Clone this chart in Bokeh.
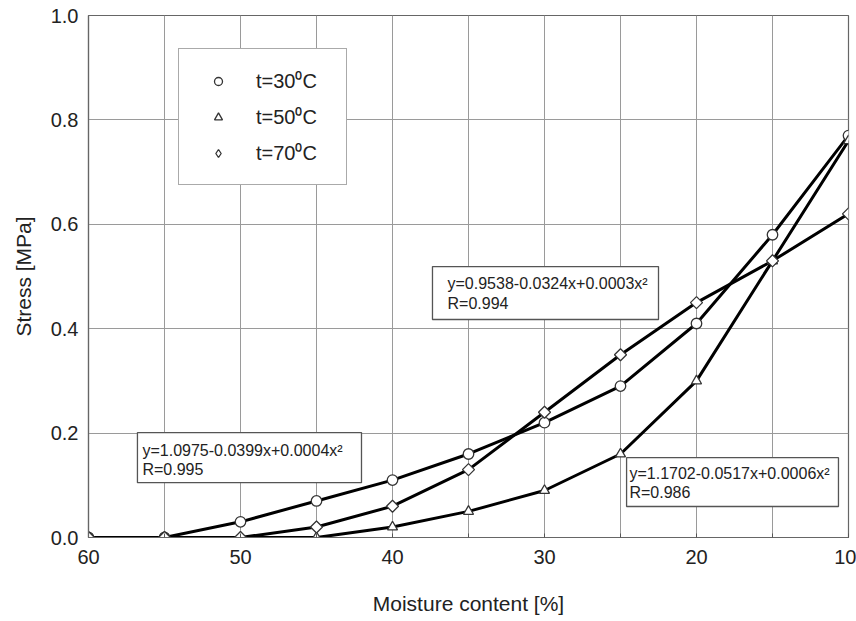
import math
from bokeh.plotting import figure
from bokeh.models import (Range1d, FixedTicker, PrintfTickFormatter, Legend, LegendItem,
                          BoxAnnotation, Label)
from bokeh.embed import file_html
from bokeh.resources import INLINE

# ---- data ----
moisture = [60, 55, 50, 45, 40, 35, 30, 25, 20, 15, 10]
stress_30 = [0.0, 0.0, 0.03, 0.07, 0.11, 0.16, 0.22, 0.29, 0.41, 0.58, 0.77]
stress_50 = [0.0, 0.0, 0.0, 0.0, 0.02, 0.05, 0.09, 0.16, 0.30, 0.53, 0.76]
stress_70 = [0.0, 0.0, 0.0, 0.02, 0.06, 0.13, 0.24, 0.35, 0.45, 0.53, 0.62]
series_labels = ["t=30\u2070C", "t=50\u2070C", "t=70\u2070C"]
x_ticks = [60, 55, 50, 45, 40, 35, 30, 25, 20, 15, 10]
x_tick_labels = {60: "60", 55: "", 50: "50", 45: "", 40: "40", 35: "", 30: "30",
                 25: "", 20: "20", 15: "", 10: "10"}
y_ticks = [0.0, 0.2, 0.4, 0.6, 0.8, 1.0]
fit_30 = ["y=1.0975-0.0399x+0.0004x\u00b2", "R=0.995"]
fit_70 = ["y=0.9538-0.0324x+0.0003x\u00b2", "R=0.994"]
fit_50 = ["y=1.1702-0.0517x+0.0006x\u00b2", "R=0.986"]

FONT = "Liberation Sans"
TXT = "#222222"

p = figure(width=856, height=621, output_backend="svg", toolbar_location=None,
           x_range=Range1d(60, 10), y_range=Range1d(0, 1.0),
           min_border_left=88, min_border_right=8, min_border_top=15, min_border_bottom=84)
p.background_fill_color = "white"
p.border_fill_color = "white"
p.outline_line_color = "#666666"
p.outline_line_width = 1.2

# axes
p.xaxis.ticker = FixedTicker(ticks=x_ticks)
p.xaxis.major_label_overrides = x_tick_labels
p.yaxis.ticker = FixedTicker(ticks=y_ticks)
p.yaxis.formatter = PrintfTickFormatter(format="%.1f")
for ax in (p.xaxis, p.yaxis):
    ax.axis_line_color = "#666666"
    ax.axis_line_width = 1.2
    ax.major_tick_out = 0
    ax.minor_tick_out = 0
    ax.minor_tick_in = 0
    ax.major_label_text_font = FONT
    ax.major_label_text_font_size = "20px"
    ax.major_label_text_color = TXT
    ax.axis_label_text_font = FONT
    ax.axis_label_text_font_size = "21px"
    ax.axis_label_text_font_style = "normal"
    ax.axis_label_text_color = TXT
p.xaxis.major_tick_in = 4
p.yaxis.major_tick_in = 0
p.xaxis.major_tick_line_color = "#555555"
p.xaxis.major_label_standoff = 12
p.yaxis.major_label_standoff = 10
p.xaxis.axis_label = "Moisture content [%]"
p.yaxis.axis_label = "Stress [MPa]"
p.xaxis.axis_label_standoff = 25
p.yaxis.axis_label_standoff = 13

# grid
p.xgrid.ticker = FixedTicker(ticks=x_ticks)
p.ygrid.ticker = FixedTicker(ticks=y_ticks)
for g in (p.xgrid, p.ygrid):
    g.grid_line_color = "#9a9a9a"
    g.grid_line_width = 1

# lines
for ys in (stress_30, stress_50, stress_70):
    p.line(moisture, ys, line_color="black", line_width=3)

mk = dict(fill_color="white", line_color="#333333", line_width=1.3)
r30 = p.scatter(moisture, stress_30, marker="circle", size=10.5, **mk)
r50 = p.scatter(moisture, stress_50, marker="triangle", size=10, **mk)
r70 = p.scatter(moisture, stress_70, marker="square", size=8.5, angle=math.pi / 4, **mk)
# legend-only glyph for the diamond series (legend does not rotate markers)
r70_key = p.scatter([float("nan")], [float("nan")], marker="diamond", size=14, **mk)

legend = Legend(items=[LegendItem(label=series_labels[0], renderers=[r30]),
                       LegendItem(label=series_labels[1], renderers=[r50]),
                       LegendItem(label=series_labels[2], renderers=[r70_key])],
                location=(90, 352), padding=18, spacing=9,
                glyph_width=42, glyph_height=20, label_height=20, label_width=72,
                label_standoff=17, margin=0,
                label_text_font=FONT, label_text_font_size="20px", label_text_color=TXT,
                border_line_color="#555555", border_line_width=1.5,
                background_fill_color="white", background_fill_alpha=1.0)
p.add_layout(legend, "center")

# fit annotation boxes (data coordinates)
boxes = [
    (56.78, 42.04, 0.201, 0.105, 56.45, 0.1667, 0.130, fit_30),
    (37.37, 22.50, 0.519, 0.4176, 36.38, 0.4866, 0.448, fit_70),
    (24.60, 10.66, 0.153, 0.0594, 24.41, 0.1226, 0.0862, fit_50),
]
for l, r, t, b, tx, ty1, ty2, lines in boxes:
    p.add_layout(BoxAnnotation(left=l, right=r, top=t, bottom=b,
                               fill_color="white", fill_alpha=1.0,
                               line_color="#555555", line_width=1.3, line_alpha=1.0))
    p.add_layout(Label(x=tx, y=ty1, text=lines[0], text_font=FONT, text_font_size="16px",
                       text_color=TXT, text_align="left", text_baseline="middle"))
    p.add_layout(Label(x=tx, y=ty2, text=lines[1], text_font=FONT, text_font_size="16px",
                       text_color=TXT, text_align="left", text_baseline="middle"))

open("out.html", "w").write(file_html(p, INLINE))
